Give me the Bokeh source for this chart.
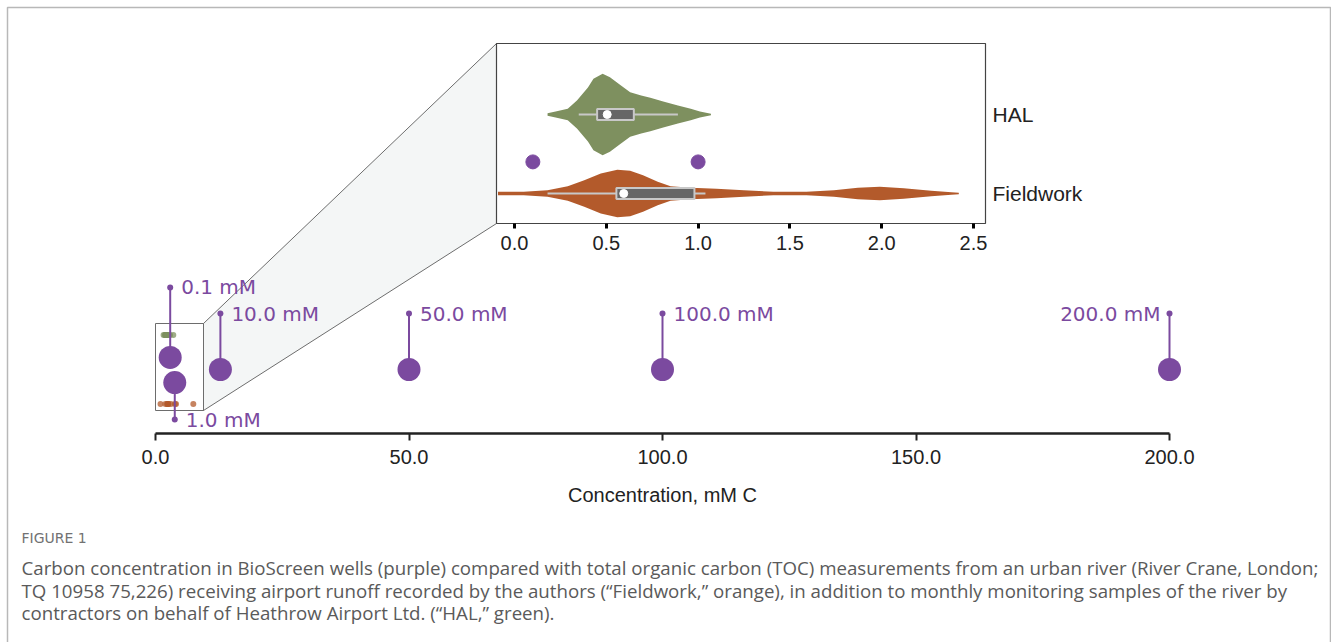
from bokeh.plotting import figure
from bokeh.models import (Range1d, LinearAxis, FixedTicker, NumeralTickFormatter,
                          ColumnDataSource, Label)
from bokeh.transform import dodge
from bokeh.core.properties import value
from bokeh.embed import file_html
from bokeh.resources import INLINE

# ---------------- data ----------------
# BioScreen well concentrations, mM C
well_conc = [0.1, 1.0, 10.0, 50.0, 100.0, 200.0]

# river TOC groups (index = row in the zoomed panel)
groups = ["Fieldwork", "HAL"]

# individual TOC samples, mM C
hal_samples = [0.35, 0.42, 0.45, 0.47, 0.48, 0.50, 0.51, 0.53, 0.58, 0.65, 0.71, 0.89]
fieldwork_samples = [0.18, 0.45, 0.55, 0.57, 0.60, 0.62, 0.75, 0.98, 1.04, 2.00]

# kernel density profiles (mM C, density)
hal_kde_x = [0.18, 0.23, 0.29, 0.34, 0.40, 0.43, 0.48, 0.52, 0.58, 0.63, 0.69,
             0.74, 0.81, 0.89, 0.96, 1.01, 1.07]
hal_kde_d = [0.10, 0.24, 0.42, 1.03, 1.99, 2.63, 3.00, 2.75, 2.14, 1.64, 1.40,
             1.23, 0.96, 0.66, 0.42, 0.22, 0.05]
fw_kde_x = [-0.09, 0.05, 0.18, 0.29, 0.38, 0.47, 0.56, 0.63, 0.70, 0.78, 0.85,
            0.96, 1.10, 1.25, 1.41, 1.59, 1.74, 1.87, 1.99, 2.12, 2.27, 2.38, 2.42]
fw_kde_d = [0.13, 0.13, 0.24, 0.54, 0.98, 1.47, 1.75, 1.67, 1.35, 0.86, 0.54,
            0.42, 0.35, 0.24, 0.13, 0.13, 0.24, 0.42, 0.49, 0.39, 0.20, 0.10, 0.05]

# box-plot summaries, ordered as in `groups`
whisker_lo = [0.18, 0.35]
quartile_1 = [0.555, 0.45]
medians = [0.595, 0.505]
quartile_3 = [0.98, 0.65]
whisker_hi = [1.04, 0.89]

axis_ticks = [0, 50, 100, 150, 200]
inset_ticks = [0.0, 0.5, 1.0, 1.5, 2.0, 2.5]

# ---------------- layout ----------------
W, H = 1331, 642
PURPLE = "#7b4a9f"
GREEN = "#7e905f"
ORANGE = "#b35a2b"
INK = "#222222"

def lin(p_a, v_a, p_b, v_b):
    k = (v_b - v_a) / (p_b - p_a)
    return lambda p: v_a + (p - p_a) * k

fx = lin(155, 0.0, 1169, 200.0)     # main concentration scale
fy = lin(369, 0.0, 334.5, 1.0)      # main rows
gx = lin(514, 0.0, 973, 2.5)        # zoomed panel scale
gy = lin(193, 0.0, 114, 1.0)        # zoomed panel rows
hx = lin(155, gx(496), 203, gx(985))  # miniature of the zoomed panel

NUDGE = 2.8                     # shift of near-zero wells off the miniature box
marker_row = [0.35, -0.38, 0, 0, 0, 0]
label_row = [2.38, -1.45, 1.62, 1.62, 1.62, 1.62]
VSCALE = 0.1716                 # panel rows per density unit

p = figure(width=W, height=H,
           x_range=Range1d(fx(0), fx(W)), y_range=Range1d(fy(H), fy(0)),
           x_axis_location=None, y_axis_location=None, toolbar_location=None,
           output_backend="svg", min_border=0, outline_line_color=None,
           background_fill_color="white", border_fill_color="white")
p.grid.visible = False
p.extra_x_ranges = {"ix": Range1d(gx(0), gx(W)), "mx": Range1d(hx(0), hx(W))}
p.extra_y_ranges = {"iy": Range1d(gy(H), gy(0))}

# page frame
p.quad(left=[fx(7)], right=[fx(1330)], top=[fy(7)], bottom=[fy(H + 20)],
       fill_color=None, line_color="#b8b8b8", line_width=1.5)

# zoom connector and miniature box
p.patch(x=[fx(203), fx(496), fx(496), fx(203)], y=[fy(323), fy(43), fy(223), fy(410)],
        fill_color="#f4f6f6", line_color="#6d6d6d", line_width=1)
p.quad(left=[fx(155)], right=[fx(203)], top=[fy(323)], bottom=[fy(410)],
       fill_color=None, line_color="#6d6d6d", line_width=1)

# zoomed panel frame
p.quad(left=[gx(496)], right=[gx(985)], top=[gy(43)], bottom=[gy(223)],
       x_range_name="ix", y_range_name="iy",
       fill_color="white", line_color="#444444", line_width=1.2)

# violins
for row, xs, ds, col in [(0, fw_kde_x, fw_kde_d, ORANGE), (1, hal_kde_x, hal_kde_d, GREEN)]:
    src = ColumnDataSource(dict(x=xs,
                                lo=[row - d * VSCALE for d in ds],
                                hi=[row + d * VSCALE for d in ds]))
    p.varea(x="x", y1="lo", y2="hi", source=src, x_range_name="ix", y_range_name="iy",
            fill_color=col)

box_src = ColumnDataSource(dict(row=list(range(len(groups))), wlo=whisker_lo, q1=quartile_1,
                                med=medians, q3=quartile_3, whi=whisker_hi))
p.segment(x0="wlo", y0="row", x1="whi", y1="row", source=box_src,
          x_range_name="ix", y_range_name="iy", line_color="#c8c8c8", line_width=2)
p.hbar(y="row", left="q1", right="q3", height=0.14, source=box_src,
       x_range_name="ix", y_range_name="iy",
       fill_color="#666666", line_color="#c8c8c8", line_width=2)
p.scatter(x="med", y="row", source=box_src, x_range_name="ix", y_range_name="iy",
          size=8, fill_color="white", line_color="white")

# wells that fall inside the zoomed panel
in_panel = [c for c in well_conc if c <= inset_ticks[-1]]
p.scatter(x=in_panel, y=[0.4] * len(in_panel), x_range_name="ix", y_range_name="iy",
          size=14, fill_color=PURPLE, line_color=PURPLE)

# panel axes
iax = LinearAxis(x_range_name="ix", y_range_name="iy",
                 ticker=FixedTicker(ticks=inset_ticks),
                 formatter=NumeralTickFormatter(format="0.0"),
                 bounds=(gx(496), gx(985)), fixed_location=gy(223))
iax.axis_line_color = None
iax.major_tick_line_color = "black"
iax.major_tick_line_width = 3
iax.major_tick_out = 5
iax.major_tick_in = 0
iax.minor_tick_line_color = None
iax.major_label_standoff = 7
iax.major_label_text_font = "Liberation Sans"
iax.major_label_text_font_size = "20px"
iax.major_label_text_color = INK
p.add_layout(iax, "below")

cax = LinearAxis(x_range_name="ix", y_range_name="iy",
                 ticker=FixedTicker(ticks=list(range(len(groups)))),
                 major_label_overrides={i: g for i, g in enumerate(groups)},
                 fixed_location=gx(985))
cax.axis_line_color = None
cax.major_tick_line_color = None
cax.minor_tick_line_color = None
cax.major_label_standoff = 1
cax.major_label_text_font = "Liberation Sans"
cax.major_label_text_font_size = "21px"
cax.major_label_text_color = INK
p.add_layout(cax, "right")

# miniature sample dots
p.scatter(x=hal_samples, y=[1] * len(hal_samples), x_range_name="mx",
          size=6, fill_color=GREEN, line_color=None, fill_alpha=0.75)
p.scatter(x=fieldwork_samples, y=[-1] * len(fieldwork_samples), x_range_name="mx",
          size=6, fill_color=ORANGE, line_color=None, fill_alpha=0.75)

# BioScreen wells as lollipops
def wells_source(idx):
    return ColumnDataSource(dict(
        conc=[well_conc[i] for i in idx],
        row=[marker_row[i] for i in idx],
        top=[label_row[i] for i in idx],
        text=[f"{well_conc[i]:.1f} mM" for i in idx],
        align=["right" if well_conc[i] == max(well_conc) else "left" for i in idx],
        dx=[-9 if well_conc[i] == max(well_conc) else 11 for i in idx],
    ))

small = [i for i, c in enumerate(well_conc) if c <= 10]
large = [i for i, c in enumerate(well_conc) if c > 10]
for idx, xspec in [(small, dodge("conc", NUDGE)), (large, "conc")]:
    src = wells_source(idx)
    p.segment(x0=xspec, y0="row", x1=xspec, y1="top", source=src,
              line_color=PURPLE, line_width=2)
    p.scatter(x=xspec, y="top", source=src, size=6, fill_color=PURPLE, line_color=None)
    p.scatter(x=xspec, y="row", source=src, size=23, fill_color=PURPLE, line_color=None)
    p.text(x=xspec, y="top", text="text", source=src, x_offset="dx",
           text_align="align", text_baseline="middle",
           text_font=value("DejaVu Sans"), text_font_size="20px", text_color=PURPLE)

# main concentration axis
ax = LinearAxis(ticker=FixedTicker(ticks=axis_ticks),
                formatter=NumeralTickFormatter(format="0.0"),
                bounds=(axis_ticks[0], axis_ticks[-1]), fixed_location=fy(433),
                axis_label="Concentration, mM C")
ax.axis_line_width = 2.5
ax.axis_line_color = INK
ax.major_tick_line_color = INK
ax.major_tick_line_width = 2
ax.major_tick_out = 7
ax.major_tick_in = 0
ax.minor_tick_line_color = None
ax.major_label_standoff = 9
ax.major_label_text_font = "Liberation Sans"
ax.major_label_text_font_size = "20px"
ax.major_label_text_color = INK
ax.axis_label_standoff = 17
ax.axis_label_text_font = "Liberation Sans"
ax.axis_label_text_font_size = "20px"
ax.axis_label_text_font_style = "normal"
ax.axis_label_text_color = INK
p.add_layout(ax, "below")

# caption
caption = [
    "Carbon concentration in BioScreen wells (purple) compared with total organic carbon (TOC) measurements from an urban river (River Crane, London;",
    "TQ 10958 75,226) receiving airport runoff recorded by the authors (\u201cFieldwork,\u201d orange), in addition to monthly monitoring samples of the river by",
    "contractors on behalf of Heathrow Airport Ltd. (\u201cHAL,\u201d green).",
]
p.add_layout(Label(x=fx(21), y=fy(537), text="FIGURE 1", text_baseline="middle",
                   text_font="DejaVu Sans", text_font_size="14px", text_color="#727272"))
for line, ypx in zip(caption, [567, 590, 612]):
    p.add_layout(Label(x=fx(21), y=fy(ypx), text=line, text_baseline="middle",
                       text_font="Open Sans", text_font_size="18.7px", text_color="#5a5a5a"))

open("out.html", "w").write(file_html(p, INLINE))
